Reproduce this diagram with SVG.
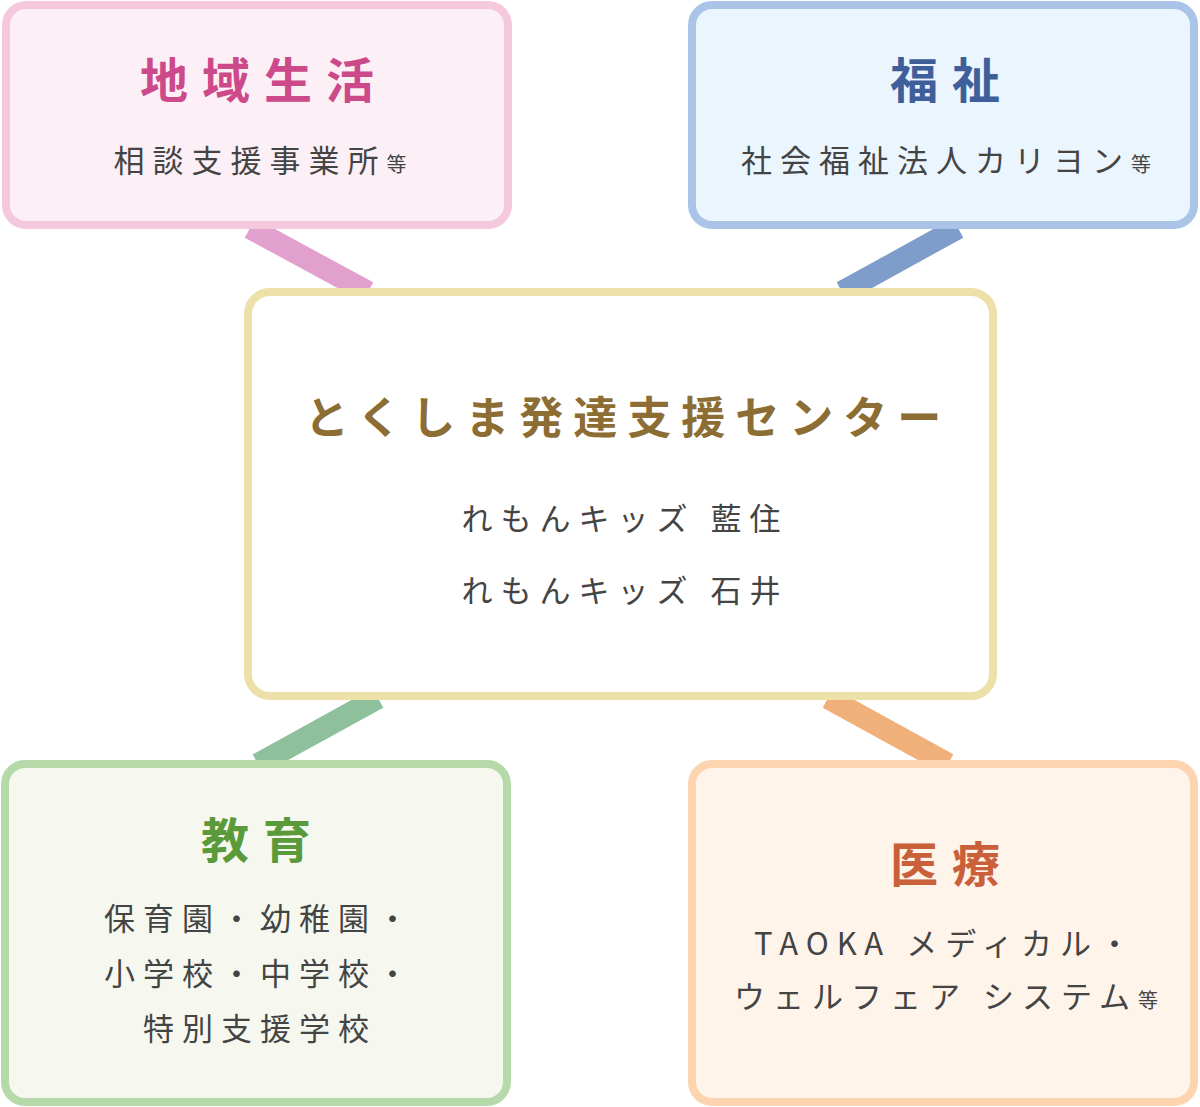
<svg xmlns="http://www.w3.org/2000/svg" width="1200" height="1107" viewBox="0 0 1200 1107">
<style>
text{font-family:"Noto Sans CJK JP","Noto Sans CJK SC",sans-serif;text-anchor:middle}
.t{font-size:48px;font-weight:bold;letter-spacing:14px}
.s{font-size:31px;fill:#444;letter-spacing:8px}
.sm{font-size:20px;letter-spacing:0}
.box{stroke-width:8}
</style>
<rect width="1200" height="1107" fill="#fff"/>
<g id="connectors" stroke-width="22">
<line x1="250" y1="228" x2="368" y2="292" stroke="#e2a0cf"/>
<line x1="958" y1="228" x2="842" y2="292" stroke="#7f9dca"/>
<line x1="378" y1="698" x2="258" y2="764" stroke="#8fc09c"/>
<line x1="828" y1="698" x2="948" y2="764" stroke="#f0b07a"/>
</g>
<g id="chiiki">
<rect class="box" x="6" y="5" width="502" height="220" rx="20" fill="#fcf0f6" stroke="#f5c8de"/>
<text class="t" x="264" y="98" fill="#cc4a8a">地域生活</text>
<text class="s" x="260" y="172">相談支援事業所<tspan class="sm">等</tspan></text>
</g>
<g id="fukushi">
<rect class="box" x="692" y="5" width="502" height="220" rx="20" fill="#eaf5fd" stroke="#aac4e8"/>
<text class="t" x="952" y="98" fill="#3f5f9a">福祉</text>
<text class="s" x="946" y="172">社会福祉法人カリヨン<tspan class="sm">等</tspan></text>
</g>
<g id="center">
<rect class="box" x="248" y="292" width="745" height="404" rx="22" fill="#fff" stroke="#ede0a8"/>
<text x="628" y="434" font-size="44" font-weight="bold" fill="#8c6d33" letter-spacing="10">とくしま発達支援センター</text>
<text class="s" x="625" y="530">れもんキッズ 藍住</text>
<text class="s" x="625" y="602">れもんキッズ 石井</text>
</g>
<g id="kyoiku">
<rect class="box" x="5" y="764" width="502" height="338" rx="20" fill="#f6f8f0" stroke="#b5d9a8"/>
<text class="t" x="263" y="858" fill="#5a9a3a">教育</text>
<text class="s" x="260" y="930">保育園・幼稚園・</text>
<text class="s" x="260" y="985">小学校・中学校・</text>
<text class="s" x="260" y="1040">特別支援学校</text>
</g>
<g id="iryo">
<rect class="box" x="692" y="764" width="502" height="338" rx="20" fill="#fff4ea" stroke="#fdd4b0"/>
<text class="t" x="952" y="882" fill="#c9603a">医療</text>
<text class="s" x="946" y="955">TAOKA メディカル・</text>
<text class="s" x="946" y="1008">ウェルフェア システム<tspan class="sm">等</tspan></text>
</g>
</svg>
